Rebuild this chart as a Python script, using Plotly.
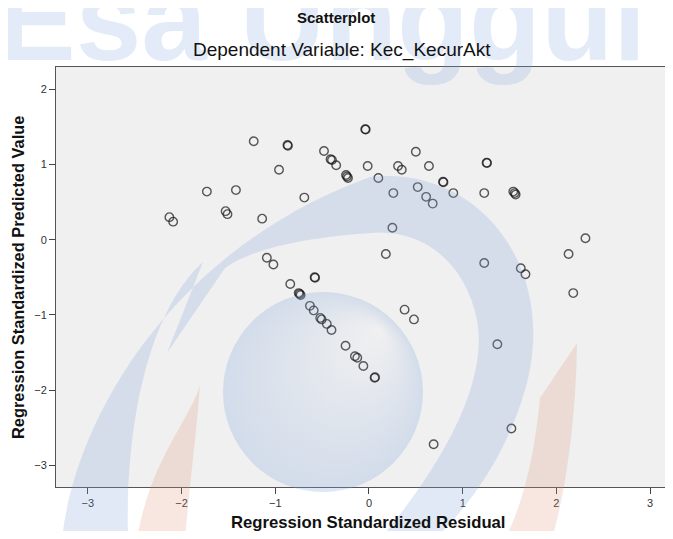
import base64
import plotly.graph_objects as go

# ---- data ----
residual = [
    -1.23, -0.87, -0.865, -0.48, -0.41, -0.395, -0.35, -0.245, -0.235, -0.224,
    -0.04, -0.035, -0.014, 0.10, -0.96, -1.73, -1.42, -1.53, -1.51, -2.13,
    -2.09, -0.69, -1.14, -1.09, -1.02, -0.84, -0.58, -0.575, -0.75, -0.74,
    -0.73, -0.63, -0.59, -0.52, -0.505, -0.45, -0.40, -0.25, -0.15, -0.125,
    -0.06, 0.065, 0.06, 0.50, 0.31, 0.35, 0.64, 1.26, 1.255, 0.79,
    0.795, 0.26, 0.52, 0.61, 0.68, 0.90, 1.23, 1.54, 1.555, 1.565,
    0.25, 0.18, 1.23, 1.62, 1.67, 2.31, 2.13, 2.18, 0.38, 0.48,
    1.37, 1.52, 0.69,
]
predicted = [
    1.31, 1.26, 1.25, 1.18, 1.07, 1.06, 0.99, 0.86, 0.84, 0.82,
    1.47, 1.465, 0.98, 0.82, 0.93, 0.64, 0.66, 0.38, 0.34, 0.30,
    0.24, 0.56, 0.28, -0.24, -0.33, -0.59, -0.50, -0.505, -0.71, -0.72,
    -0.735, -0.88, -0.94, -1.04, -1.06, -1.12, -1.20, -1.41, -1.55, -1.57,
    -1.68, -1.83, -1.835, 1.17, 0.98, 0.93, 0.98, 1.02, 1.025, 0.77,
    0.765, 0.62, 0.70, 0.57, 0.48, 0.62, 0.62, 0.64, 0.62, 0.60,
    0.16, -0.19, -0.31, -0.38, -0.46, 0.02, -0.19, -0.71, -0.93, -1.06,
    -1.39, -2.51, -2.72,
]
x_ticks = [-3, -2, -1, 0, 1, 2, 3]
y_ticks = [-3, -2, -1, 0, 1, 2]
title_text = "Scatterplot"
subtitle_text = "Dependent Variable: Kec_KecurAkt"
x_title = "Regression Standardized Residual"
y_title = "Regression Standardized Predicted Value"
watermark_text = "Esa Unggul"

# The page body has an 8px margin; size the figure so nothing overflows.
OFF = 8
W, H = 673 - 2 * OFF, 539 - 2 * OFF          # 657 x 523
ML, MT = 56 - OFF, 67 - OFF                  # plot frame at window x=56, y=67
MR, MB = 0, H - (487 - OFF)                  # plot bottom at window y=487
PW, PH = W - ML - MR, H - MT - MB


def px(wx):   # window x -> paper x
    return (wx - OFF - ML) / PW


def py(wy):   # window y -> paper y
    return (H - MB - (wy - OFF)) / PH


FONT = "Liberation Sans, Arial, sans-serif"

fig = go.Figure()
fig.add_trace(go.Scatter(
    x=residual, y=predicted, mode="markers",
    marker=dict(symbol="circle-open", size=8.5, color="rgba(25,25,25,0.72)",
                line=dict(width=1.4)),
    hoverinfo="x+y", showlegend=False,
))

axis_common = dict(
    showgrid=False, zeroline=False, showline=True, mirror=True,
    linecolor="#555", linewidth=1, ticks="outside", ticklen=6,
    tickcolor="#444", tickwidth=1,
    tickfont=dict(family=FONT, size=11, color="#333"),
)
fig.update_xaxes(range=[-3.34, 3.159], tickvals=x_ticks, **axis_common)
fig.update_yaxes(range=[-3.289, 2.297], tickvals=y_ticks, **axis_common)

# ---- watermark logo (background decoration), drawn in window pixels ----
svg = f'''<svg xmlns="http://www.w3.org/2000/svg" width="{W}" height="{H}" viewBox="{OFF} {OFF} {W} {H}">
<defs>
<radialGradient id="g" cx="323" cy="392" r="100" fx="380" fy="330" gradientUnits="userSpaceOnUse">
<stop offset="0" stop-color="rgb(125,162,218)" stop-opacity="0.0"/>
<stop offset="1" stop-color="rgb(125,162,218)" stop-opacity="0.26"/>
</radialGradient>
</defs>
<path d="M 62 539 C 75 420, 170 250, 370 177 C 480 165, 560 270, 525 390 C 505 460, 465 510, 435 539 L 380 539 C 430 480, 490 390, 477 320 C 465 260, 420 228, 370 233 C 300 238, 250 250, 225 268 L 167 353 L 203 262 C 150 310, 125 420, 128 539 Z" fill="rgb(125,162,218)" fill-opacity="0.23"/>
<circle cx="323" cy="392" r="100" fill="url(#g)"/>
<path d="M 200 385 C 190 420, 150 460, 137 539 L 185 539 C 190 480, 197 430, 200 385 Z" fill="rgb(222,145,112)" fill-opacity="0.22"/>
<path d="M 577 343 L 540 398 C 535 450, 525 500, 505 539 L 552 539 C 566 490, 576 420, 577 343 Z" fill="rgb(222,145,112)" fill-opacity="0.22"/>
</svg>'''
src = "data:image/svg+xml;base64," + base64.b64encode(svg.encode()).decode()
fig.add_layout_image(dict(
    source=src, xref="paper", yref="paper",
    x=px(OFF), y=py(OFF), sizex=W / PW, sizey=H / PH,
    xanchor="left", yanchor="top", sizing="stretch", layer="above", opacity=1,
))

ann = []
ann.append(dict(
    text=f"<b>{watermark_text}</b>", xref="paper", yref="paper",
    x=px(-4), y=py(86), xanchor="left", yanchor="bottom",
    showarrow=False, borderpad=0,
    font=dict(family=FONT, size=118, color="rgba(125,162,218,0.22)"),
))
ann.append(dict(
    text=f"<b>{title_text}</b>", xref="paper", yref="paper",
    x=px(336), y=py(18), xanchor="center", yanchor="middle",
    showarrow=False, font=dict(family=FONT, size=15, color="#111"),
))
ann.append(dict(
    text=subtitle_text, xref="paper", yref="paper",
    x=px(342), y=py(50), xanchor="center", yanchor="middle",
    showarrow=False, font=dict(family=FONT, size=19, color="#111"),
))
ann.append(dict(
    text=f"<b>{x_title}</b>", xref="x", yref="paper",
    x=0, y=py(522), xanchor="center", yanchor="middle",
    showarrow=False, font=dict(family=FONT, size=16.7, color="#111"),
))
ann.append(dict(
    text=f"<b>{y_title}</b>", xref="paper", yref="paper",
    x=px(18), y=py(278), xanchor="center", yanchor="middle", textangle=-90,
    showarrow=False, font=dict(family=FONT, size=16.4, color="#111"),
))

fig.update_layout(
    width=W, height=H,
    margin=dict(l=ML, r=MR, t=MT, b=MB, autoexpand=False),
    paper_bgcolor="white", plot_bgcolor="#f0f0f0",
    annotations=ann,
    font=dict(family=FONT),
)

fig.write_html("out.html")
